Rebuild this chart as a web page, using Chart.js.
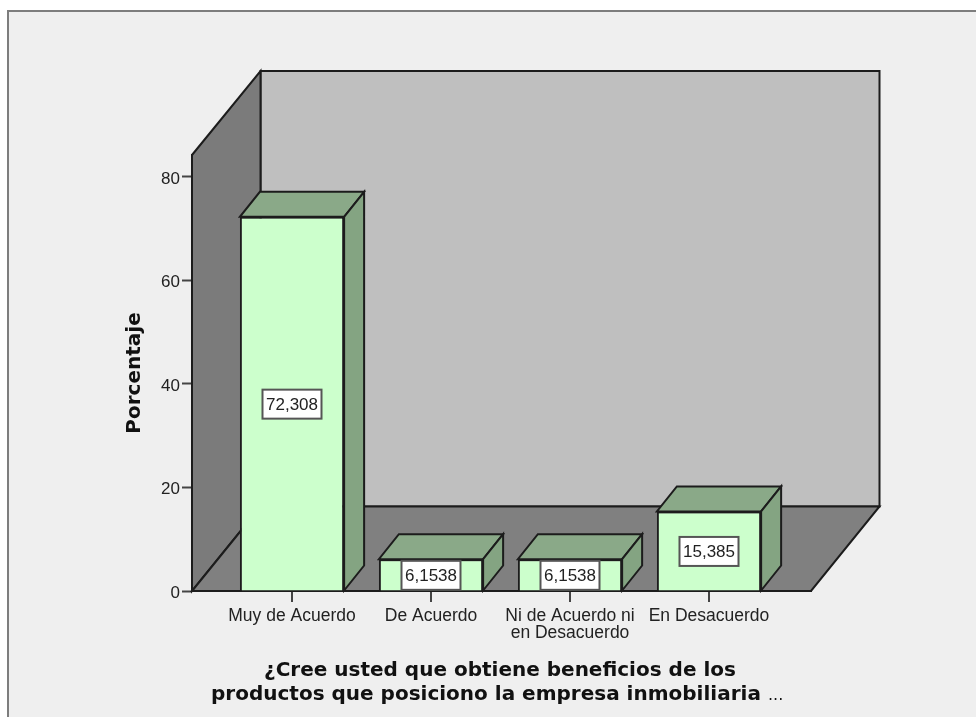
<!DOCTYPE html>
<html>
<head>
<meta charset="utf-8">
<style>html,body{margin:0;padding:0;background:#fff}canvas{display:block}#w{width:976px;height:717px;position:relative}</style>
<script src="https://cdn.jsdelivr.net/npm/chart.js@4"></script>
</head>
<body>
<div id="w"><canvas id="c" width="976" height="717"></canvas></div>
<script>
const categories = ['Muy de Acuerdo', 'De Acuerdo', ['Ni de Acuerdo ni', 'en Desacuerdo'], 'En Desacuerdo'];
const seriesValues = [72.308, 6.1538, 6.1538, 15.385];
const yTicks = [0, 20, 40, 60, 80];
const yTitle = 'Porcentaje';
const xTitleLines = ['¿Cree usted que obtiene beneficios de los', 'productos que posiciono la empresa inmobiliaria'];

const LINE = '#1c1c1c';
function poly(ctx, pts, fill) {
  ctx.beginPath();
  pts.forEach((p, i) => i ? ctx.lineTo(p[0], p[1]) : ctx.moveTo(p[0], p[1]));
  ctx.closePath();
  ctx.fillStyle = fill;
  ctx.fill();
  ctx.lineWidth = 2;
  ctx.strokeStyle = LINE;
  ctx.lineJoin = 'miter';
  ctx.stroke();
}
const frame3d = {
  id: 'frame3d',
  beforeDraw(chart) {
    const ctx = chart.ctx;
    ctx.save();
    ctx.fillStyle = '#efefef';
    ctx.fillRect(8, 11, 968, 706);
    ctx.fillStyle = '#7d7d7d';
    ctx.fillRect(7, 10, 969, 2);
    ctx.fillRect(7, 10, 2, 707);
    ctx.restore();
  },
  beforeDatasetsDraw(chart) {
    const ctx = chart.ctx, a = chart.chartArea;
    const dx = 68.5, dy = -84;
    ctx.save();
    poly(ctx, [[a.left + dx, a.top + dy], [a.right + dx, a.top + dy], [a.right + dx, a.bottom + dy - 0.5], [a.left + dx, a.bottom + dy - 0.5]], '#bfbfbf');
    poly(ctx, [[a.left, a.top], [a.left + dx, a.top + dy], [a.left + dx, a.bottom + dy - 0.5], [a.left, a.bottom]], '#7b7b7b');
    poly(ctx, [[a.left, a.bottom], [a.right, a.bottom], [a.right + dx, a.bottom + dy - 0.5], [a.left + dx, a.bottom + dy - 0.5]], '#808080');
    ctx.restore();
  },
  afterDatasetsDraw(chart) {
    const ctx = chart.ctx;
    const dx = 20, dy = -25;
    const bars = chart.getDatasetMeta(0).data;
    ctx.save();
    bars.forEach((b) => {
      const l = b.x - b.width / 2, r = b.x + b.width / 2, t = b.y, bt = b.base;
      poly(ctx, [[l, t], [r, t], [r + dx, t + dy], [l + dx, t + dy]], '#8aa988');
      poly(ctx, [[r, t], [r + dx, t + dy], [r + dx, bt + dy], [r, bt]], '#84a482');
    });
    bars.forEach((b, i) => {
      const txt = String(seriesValues[i]).replace('.', ',');
      const cy = Math.min((b.y + b.base) / 2 + 0.5, b.base - 15);
      const w = 59, h = 29;
      ctx.fillStyle = '#fff';
      ctx.strokeStyle = '#555';
      ctx.lineWidth = 2;
      ctx.fillRect(b.x - w / 2, cy - h / 2, w, h);
      ctx.strokeRect(b.x - w / 2, cy - h / 2, w, h);
      ctx.fillStyle = '#222';
      ctx.font = '17px "Liberation Sans"';
      ctx.textAlign = 'center';
      ctx.textBaseline = 'middle';
      ctx.fillText(txt, b.x, cy + 1);
    });
    ctx.fillStyle = '#111';
    ctx.font = 'bold 20px "DejaVu Sans"';
    ctx.textAlign = 'center';
    ctx.textBaseline = 'alphabetic';
    ctx.fillText(xTitleLines[0], 500, 676);
    ctx.textAlign = 'left';
    ctx.fillText(xTitleLines[1], 211, 700);
    ctx.font = '16px "DejaVu Sans"';
    ctx.fillText('...', 768, 700);
    ctx.restore();
  }
};

new Chart(document.getElementById('c'), {
  type: 'bar',
  data: {
    datasets: [{
      data: seriesValues.map((v, i) => ({ x: i, y: v })),
      backgroundColor: '#ccffcc',
      borderColor: LINE,
      borderWidth: 2,
      barPercentage: 0.75,
      categoryPercentage: 1
    }]
  },
  options: {
    responsive: false,
    animation: false,
    layout: { padding: { top: 155, right: 165, left: 0, bottom: 0 } },
    plugins: { legend: { display: false }, tooltip: { enabled: false }, title: { display: false } },
    scales: {
      x: {
        type: 'linear',
        offset: false,
        min: -0.7194,
        max: 3.7338,
        afterBuildTicks(s) { s.ticks = categories.map((_, i) => ({ value: i })); },
        afterFit(s) { s.height = 126; },
        ticks: {
          callback: (v) => categories[v],
          autoSkip: false,
          maxRotation: 0,
          minRotation: 0,
          padding: 5,
          color: '#222',
          font: { family: '"Liberation Sans"', size: 17.5, lineHeight: 1.0 }
        },
        grid: { offset: false, drawOnChartArea: false, drawTicks: true, tickLength: 11, tickWidth: 2, tickColor: '#444', color: LINE, lineWidth: 2 },
        border: { color: LINE, width: 2 }
      },
      y: {
        min: 0,
        max: 84.25,
        afterBuildTicks(s) { s.ticks = yTicks.map((v) => ({ value: v })); },
        afterFit(s) { s.width = 192; },
        title: {
          display: true,
          text: yTitle,
          color: '#111',
          font: { family: '"DejaVu Sans"', weight: 'bold', size: 20 },
          padding: { top: 123, bottom: 0 }
        },
        ticks: {
          color: '#222',
          padding: 2,
          labelOffset: 2,
          font: { family: '"Liberation Sans"', size: 17 }
        },
        grid: { drawOnChartArea: false, drawTicks: true, tickLength: 10, tickWidth: 2, tickColor: '#444' },
        border: { color: LINE, width: 2 }
      }
    }
  },
  plugins: [frame3d]
});
</script>
</body>
</html>
